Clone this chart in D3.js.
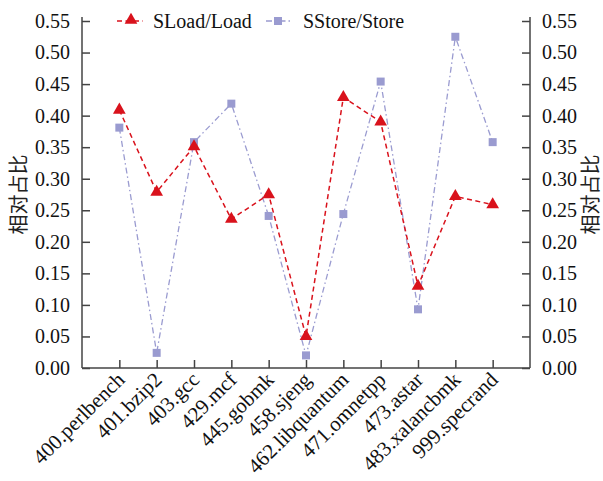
<!DOCTYPE html>
<meta charset="utf-8">
<style>
body { margin: 0; background: #fff; }
svg { display: block; }
.tick text { font-family: "Liberation Serif", "DejaVu Serif", serif; font-size: 20px; fill: #111; }
.xaxis .tick text { font-size: 21px; }
.axis path, .axis line { stroke: #444; stroke-width: 1.5px; }
.ytitle { font-family: "Noto Sans CJK SC", sans-serif; font-size: 20px; fill: #222; }
.legend text { font-family: "Liberation Serif", serif; font-size: 20px; fill: #111; }
</style>
<script src="https://d3js.org/d3.v7.min.js"></script>
<body>
<script>
// benchmarks and ratios
var benches = ["400.perlbench", "401.bzip2", "403.gcc", "429.mcf", "445.gobmk", "458.sjeng",
  "462.libquantum", "471.omnetpp", "473.astar", "483.xalancbmk", "999.specrand"];
var sload = [0.409, 0.279, 0.351, 0.236, 0.275, 0.050, 0.429, 0.390, 0.130, 0.272, 0.259];
var sstore = [0.381, 0.024, 0.358, 0.419, 0.241, 0.020, 0.244, 0.454, 0.093, 0.525, 0.358];
var yTicks = [0, 0.05, 0.10, 0.15, 0.20, 0.25, 0.30, 0.35, 0.40, 0.45, 0.50, 0.55];

var W = 603, H = 481;
var mLeft = 82, mRight = 530, mTop = 21, mBottom = 368;
var red = "#d9121c", blue = "#9a9bd0";

var svg = d3.select("body").append("svg").attr("width", W).attr("height", H);

var x = d3.scalePoint().domain(benches).range([mLeft, mRight]).padding(1);
var y = d3.scaleLinear().domain([0, 0.55]).range([mBottom, mTop]);

// axes (ticks pointing inward)
svg.append("g").attr("class", "axis")
  .attr("transform", "translate(" + mLeft + ",0)")
  .call(d3.axisLeft(y).tickValues(yTicks).tickFormat(d3.format(".2f")).tickSizeInner(-8).tickSizeOuter(0).tickPadding(12))
  .call(g => g.select(".domain").attr("d", "M0," + (mTop - 4) + "V" + mBottom));

svg.append("g").attr("class", "axis")
  .attr("transform", "translate(" + mRight + ",0)")
  .call(d3.axisRight(y).tickValues(yTicks).tickFormat(d3.format(".2f")).tickSizeInner(-8).tickSizeOuter(0).tickPadding(12))
  .call(g => g.select(".domain").attr("d", "M0," + (mTop - 4) + "V" + mBottom));

var xa = svg.append("g").attr("class", "axis xaxis")
  .attr("transform", "translate(0," + mBottom + ")")
  .call(d3.axisBottom(x).tickSizeInner(-8).tickSizeOuter(0));
xa.select(".domain").attr("d", "M" + mLeft + ",0H" + mRight);
xa.selectAll(".tick text")
  .attr("text-anchor", "end")
  .attr("dy", 0).attr("y", 0)
  .attr("transform", "translate(6,13) rotate(-45)");

// y titles
svg.append("text").attr("class", "ytitle")
  .attr("transform", "translate(26," + ((mTop + mBottom) / 2) + ") rotate(-90)")
  .attr("text-anchor", "middle").text("相对占比");
svg.append("text").attr("class", "ytitle")
  .attr("transform", "translate(598," + ((mTop + mBottom) / 2) + ") rotate(-90)")
  .attr("text-anchor", "middle").text("相对占比");

var line = d3.line().x((d, i) => x(benches[i])).y(d => y(d));

svg.append("path").datum(sstore).attr("d", line)
  .attr("fill", "none").attr("stroke", blue).attr("stroke-width", 1.3)
  .attr("stroke-dasharray", "6,3,1.5,3");
svg.append("path").datum(sload).attr("d", line)
  .attr("fill", "none").attr("stroke", red).attr("stroke-width", 1.5)
  .attr("stroke-dasharray", "5,3.5");

var tri = d3.symbol().type(d3.symbolTriangle).size(70);
var sq = d3.symbol().type(d3.symbolSquare).size(64);

svg.selectAll(".sq").data(sstore).enter().append("path")
  .attr("d", sq).attr("fill", blue)
  .attr("transform", (d, i) => "translate(" + x(benches[i]) + "," + y(d) + ")");
svg.selectAll(".tri").data(sload).enter().append("path")
  .attr("d", tri).attr("fill", red)
  .attr("transform", (d, i) => "translate(" + x(benches[i]) + "," + y(d) + ")");

// legend
var lg = svg.append("g").attr("class", "legend");
var ly = 21;
lg.append("line").attr("x1", 117).attr("x2", 143).attr("y1", ly).attr("y2", ly)
  .attr("stroke", red).attr("stroke-width", 1.5).attr("stroke-dasharray", "5,3.5");
lg.append("path").attr("d", tri).attr("fill", red).attr("transform", "translate(131," + (ly - 1) + ")");
lg.append("text").attr("x", 153).attr("y", ly + 7).text("SLoad/Load");
lg.append("line").attr("x1", 266).attr("x2", 291).attr("y1", ly).attr("y2", ly)
  .attr("stroke", blue).attr("stroke-width", 1.3).attr("stroke-dasharray", "6,3,1.5,3");
lg.append("path").attr("d", sq).attr("fill", blue).attr("transform", "translate(278," + ly + ")");
lg.append("text").attr("x", 303).attr("y", ly + 7).text("SStore/Store");
</script>
</body>
